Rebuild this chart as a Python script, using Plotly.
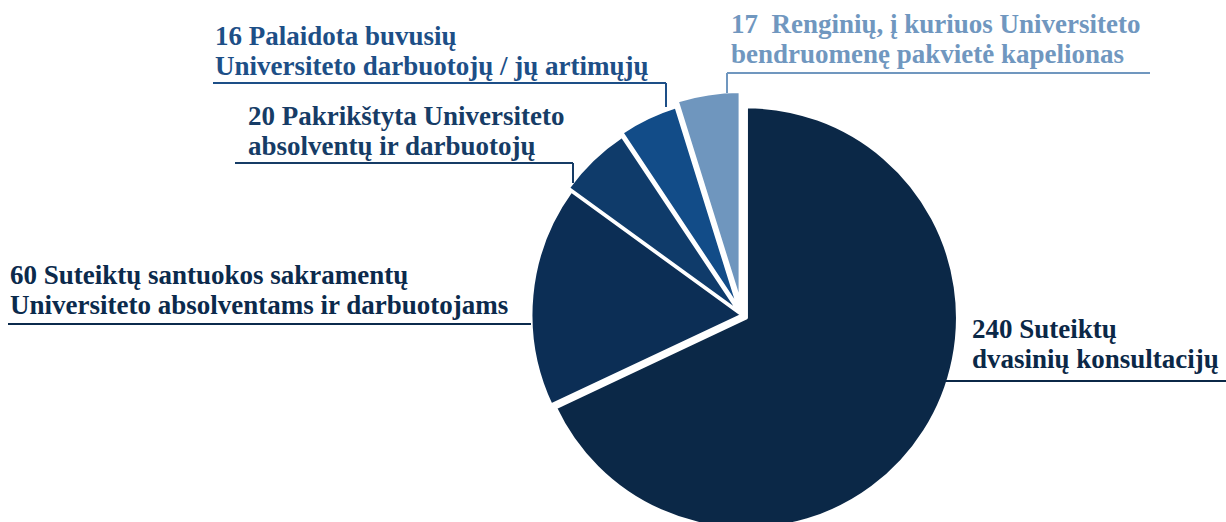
import plotly.graph_objects as go

W, H = 1226, 540

counts = [240, 60, 20, 16, 17]
line1 = [
    "240 Suteiktų",
    "60 Suteiktų santuokos sakramentų",
    "20 Pakrikštyta Universiteto",
    "16 Palaidota buvusių",
    "17  Renginių, į kuriuos Universiteto",
]
line2 = [
    "dvasinių konsultacijų",
    "Universiteto absolventams ir darbuotojams",
    "absolventų ir darbuotojų",
    "Universiteto darbuotojų / jų artimųjų",
    "bendruomenę pakvietė kapelionas",
]
slice_colors = ["#0B2847", "#0C2E55", "#0F3B6A", "#124C88", "#6F96BE"]
text_colors = ["#0B2847", "#0B2A4C", "#163C66", "#1D4F87", "#7097BF"]
pulls = [0.025, 0.0, 0.02, 0.035, 0.06]

# label layout (pixels): text left, baseline of 2nd line, underline y, underline x0/x1, elbow end y
label_pos = [
    dict(tx=970, base=368, uy=381, x0=926, x1=1226, ey=None),
    dict(tx=8, base=314, uy=324, x0=8, x1=531, ey=None),
    dict(tx=246, base=155, uy=163, x0=235, x1=573, ey=183),
    dict(tx=213, base=75, uy=83, x0=213, x1=666, ey=107),
    dict(tx=729, base=63, uy=73, x0=727, x1=1150, ey=93),
]

FONT = "Liberation Serif"
SIZE = 27
LINE_GAP = 30


def px(x):
    return x / W


def py(y):
    return 1 - y / H


# pie geometry
cx, cy, r = 742, 315, 211
half = r * (1 + max(pulls))

fig = go.Figure(
    go.Pie(
        values=counts,
        labels=line1,
        sort=False,
        direction="clockwise",
        rotation=0,
        pull=pulls,
        marker=dict(colors=slice_colors, line=dict(color="white", width=3)),
        textinfo="none",
        hoverinfo="none",
        showlegend=False,
        domain=dict(x=[px(cx - half), px(cx + half)], y=[py(cy + half), py(cy - half)]),
    )
)

for i, pos in enumerate(label_pos):
    col = text_colors[i]
    for k, txt in enumerate([line1[i], line2[i]]):
        base = pos["base"] - (1 - k) * LINE_GAP
        fig.add_annotation(
            x=px(pos["tx"]), y=py(base + 8),
            xref="paper", yref="paper",
            xanchor="left", yanchor="bottom", align="left",
            text=txt,
            showarrow=False,
            font=dict(family=FONT, size=SIZE, color=col, weight="bold"),
        )
    fig.add_shape(
        type="line", xref="paper", yref="paper",
        x0=px(pos["x0"]), x1=px(pos["x1"]), y0=py(pos["uy"]), y1=py(pos["uy"]),
        line=dict(color=col, width=2),
    )
    if pos["ey"] is not None:
        ex = pos["x1"] if i != 4 else pos["x0"]
        fig.add_shape(
            type="line", xref="paper", yref="paper",
            x0=px(ex), x1=px(ex), y0=py(pos["uy"]), y1=py(pos["ey"]),
            line=dict(color=col, width=2),
        )

fig.update_layout(
    width=W, height=H,
    margin=dict(l=0, r=0, t=0, b=0),
    paper_bgcolor="white",
    plot_bgcolor="white",
)

fig.write_html(
    "out.html",
    config={"displayModeBar": False},
    post_script="document.body.style.overflow='hidden';document.body.style.margin='0';",
)
